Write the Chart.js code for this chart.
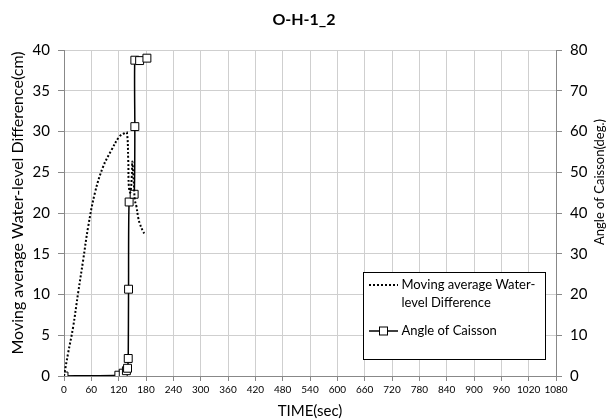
<!DOCTYPE html>
<html>
<head>
<meta charset="utf-8">
<script src="https://cdn.jsdelivr.net/npm/chart.js@4"></script>
<style>
  html, body { margin: 0; padding: 0; background: #fff; }
  #c { display: block; }
</style>
</head>
<body>
<canvas id="c" width="608" height="419"></canvas>
<script>
// ---- data ----
const chartTitle = "O-H-1_2";
const xTitle = "TIME(sec)";
const leftTitle = "Moving average Water-level Difference(cm)";
const rightTitle = "Angle of Caisson(deg.)";
const seriesNames = ["Moving average Water-level Difference", "Angle of Caisson"];
const legendLines1 = ["Moving average Water-", "level Difference"];

const waterTime  = [0, 9, 20, 31, 42, 53, 68, 86, 104, 122, 133, 138, 141, 142.4, 145.6, 149, 150, 153, 155.5, 159, 162.7, 166.4, 173.7, 176.3];
const waterLevel = [0, 2.8, 6.0, 10.2, 14.2, 18.3, 22.5, 25.7, 27.7, 29.4, 29.8, 29.9, 26.5, 23.2, 22.5, 24.7, 26.3, 24.0, 21.6, 20.8, 19.5, 18.7, 17.7, 17.5];

const angleTime  = [0, 120.4, 130, 137, 139.5, 141, 141.7, 143, 154, 155.5, 155.5, 166, 182];
const angleValue = [0, 0.2, 0.7, 1.3, 1.9, 4.3, 21.3, 42.7, 44.6, 61.2, 77.5, 77.4, 78];

const xMin = 0, xMax = 1080, xStep = 60;
const yMin = 0, yMax = 40, yStep = 5;
const y2Min = 0, y2Max = 80, y2Step = 10;

// ---- build ----
const FONT = "Lato, 'Open Sans', 'Liberation Sans', sans-serif";
const waterPts = waterTime.map((t, i) => ({ x: t, y: waterLevel[i] }));
const anglePts = angleTime.map((t, i) => ({ x: t, y: angleValue[i] }));

const extras = {
  id: 'extras',
  afterDraw(chart) {
    const ctx = chart.ctx;
    ctx.save();
    ctx.fillStyle = '#000';
    ctx.textAlign = 'center';
    ctx.textBaseline = 'middle';
    // left axis title
    ctx.save();
    ctx.font = "16px " + FONT;
    ctx.translate(18, 203);
    ctx.rotate(-Math.PI / 2);
    ctx.fillText(leftTitle, 0, 0);
    ctx.restore();
    // right axis title (reads bottom to top)
    ctx.font = "13px " + FONT;
    ctx.translate(600, 182);
    ctx.rotate(-Math.PI / 2);
    ctx.fillText(rightTitle, 0, 0);
    ctx.restore();

    // legend box
    ctx.save();
    const bx = 363.5, by = 272.5, bw = 182, bh = 87;
    ctx.fillStyle = '#fff';
    ctx.fillRect(bx, by, bw, bh);
    ctx.strokeStyle = '#000';
    ctx.lineWidth = 1;
    ctx.strokeRect(bx, by, bw, bh);

    const ds0 = chart.data.datasets[0];
    const ds1 = chart.data.datasets[1];
    // dotted sample
    ctx.strokeStyle = ds0.borderColor;
    ctx.lineWidth = ds0.borderWidth;
    ctx.setLineDash(ds0.borderDash);
    ctx.beginPath();
    ctx.moveTo(369, 285);
    ctx.lineTo(398, 285);
    ctx.stroke();
    ctx.setLineDash([]);
    // angle sample
    ctx.strokeStyle = ds1.borderColor;
    ctx.lineWidth = ds1.borderWidth;
    ctx.beginPath();
    ctx.moveTo(369, 331);
    ctx.lineTo(398, 331);
    ctx.stroke();
    ctx.fillStyle = '#fff';
    ctx.lineWidth = 1;
    ctx.fillRect(379.5, 327, 8, 8);
    ctx.strokeRect(379.5, 327, 8, 8);

    ctx.fillStyle = '#000';
    ctx.font = "13px " + FONT;
    ctx.textAlign = 'left';
    ctx.textBaseline = 'middle';
    ctx.fillText(legendLines1[0], 401.5, 285);
    ctx.fillText(legendLines1[1], 401.5, 303);
    ctx.fillText(seriesNames[1], 401.5, 331);
    ctx.restore();
  }
};

new Chart(document.getElementById('c'), {
  type: 'scatter',
  data: {
    datasets: [
      {
        label: seriesNames[0],
        data: waterPts,
        yAxisID: 'y',
        showLine: true,
        borderColor: '#000',
        borderWidth: 2,
        borderDash: [2, 2],
        pointRadius: 0,
        pointHoverRadius: 0,
        tension: 0.4,
        fill: false
      },
      {
        label: seriesNames[1],
        data: anglePts,
        yAxisID: 'y2',
        showLine: true,
        borderColor: '#000',
        borderWidth: 1.5,
        pointStyle: 'rect',
        pointRadius: 5.6,
        pointBorderWidth: 1,
        pointBorderColor: '#000',
        pointBackgroundColor: '#fff',
        tension: 0.15,
        fill: false
      }
    ]
  },
  options: {
    responsive: false,
    devicePixelRatio: 1,
    animation: false,
    events: [],
    layout: { padding: 0 },
    plugins: {
      legend: { display: false },
      tooltip: { enabled: false },
      title: {
        display: true,
        text: chartTitle,
        color: '#000',
        font: { family: FONT, size: 16, weight: 'bold', lineHeight: 1.2 },
        padding: { top: 10.4, bottom: 20.4 }
      }
    },
    scales: {
      x: {
        type: 'linear',
        min: xMin, max: xMax,
        afterFit(s) { s.height = 43; },
        ticks: { stepSize: xStep, autoSkip: false, maxRotation: 0, padding: 3, color: '#000',
                 font: { family: FONT, size: 10 }, callback: v => String(v) },
        grid: { color: '#cfcfcf', tickColor: '#888', tickLength: 5, lineWidth: 1 },
        border: { color: '#888' },
        title: { display: true, text: xTitle, color: '#000', padding: 0,
                 font: { family: FONT, size: 15, lineHeight: 1.0 } }
      },
      y: {
        type: 'linear',
        position: 'left',
        min: yMin, max: yMax,
        afterFit(s) { s.width = 64; },
        ticks: { stepSize: yStep, padding: 8, color: '#000', font: { family: FONT, size: 15 },
                 callback: v => String(v) },
        grid: { color: '#cfcfcf', tickColor: '#888', tickLength: 6, lineWidth: 1 },
        border: { color: '#888' }
      },
      y2: {
        type: 'linear',
        position: 'right',
        min: y2Min, max: y2Max,
        afterFit(s) { s.width = 52; },
        ticks: { stepSize: y2Step, padding: 8, color: '#000', font: { family: FONT, size: 15 },
                 callback: v => String(v) },
        grid: { drawOnChartArea: false, tickColor: '#888', tickLength: 6 },
        border: { color: '#888' }
      }
    }
  },
  plugins: [extras]
});
</script>
</body>
</html>
